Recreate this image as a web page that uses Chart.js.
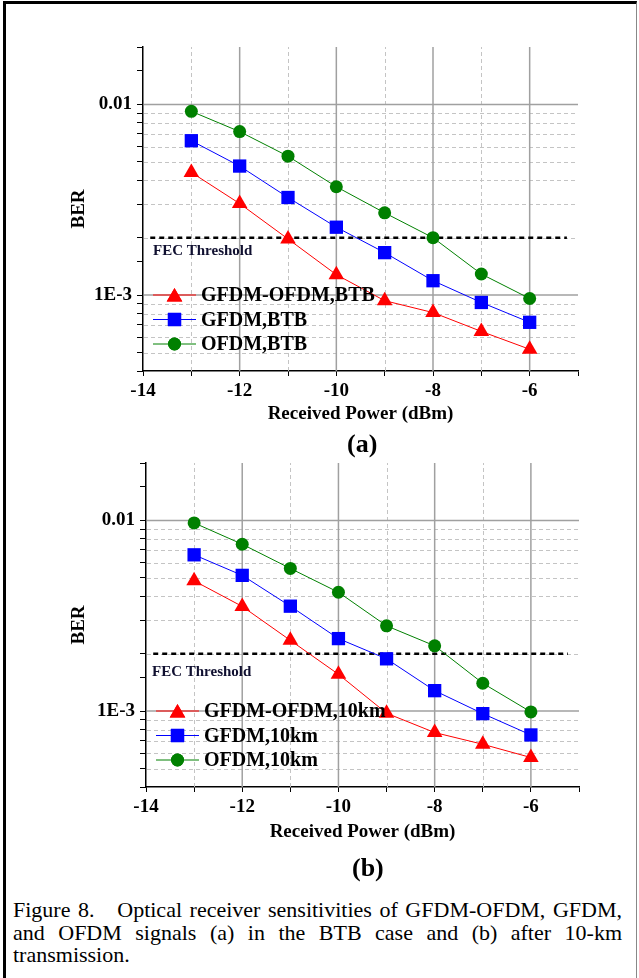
<!DOCTYPE html>
<html>
<head>
<meta charset="utf-8">
<script src="https://cdn.jsdelivr.net/npm/chart.js@4.4.1/dist/chart.umd.min.js"></script>
<style>
html,body{margin:0;padding:0;background:#fff;}
body{width:639px;height:978px;position:relative;overflow:hidden;font-family:"Liberation Serif","Times New Roman",serif;color:#000;}
#frame{position:absolute;left:3px;top:1px;width:630px;height:1000px;border-left:3px solid #000;border-top:3px solid #000;border-right:1px solid #888;}
.wrap{position:absolute;left:0;width:639px;}
#wa{top:0;height:430px;}
#wb{top:440px;height:420px;}
.lab{position:absolute;font-weight:bold;font-size:26px;line-height:26px;}
#cap{position:absolute;left:13px;width:609px;top:899px;font-size:22px;line-height:22.5px;text-align:justify;}
</style>
</head>
<body>
<div id="frame"></div>
<div class="wrap" id="wa"><canvas id="ca"></canvas></div>
<div class="wrap" id="wb"><canvas id="cb"></canvas></div>
<div class="lab" style="left:347px;top:431px;">(a)</div>
<div class="lab" style="left:352px;top:855px;">(b)</div>
<div id="cap">Figure 8.&nbsp;&nbsp; Optical receiver sensitivities of GFDM-OFDM, GFDM, and OFDM signals (a) in the BTB case and (b) after 10-km transmission.</div>
<script>
// ---- data ----
const powers = [-13, -12, -11, -10, -9, -8, -7, -6];
const berGfdmOfdmBtb = [4.4e-3, 3.02e-3, 1.97e-3, 1.28e-3, 0.935e-3, 0.81e-3, 0.645e-3, 0.52e-3];
const berGfdmBtb     = [6.45e-3, 4.75e-3, 3.25e-3, 2.27e-3, 1.67e-3, 1.19e-3, 0.915e-3, 0.72e-3];
const berOfdmBtb     = [9.2e-3, 7.2e-3, 5.35e-3, 3.7e-3, 2.7e-3, 2.0e-3, 1.29e-3, 0.96e-3];
const berGfdmOfdm10  = [4.82e-3, 3.54e-3, 2.35e-3, 1.56e-3, 0.975e-3, 0.772e-3, 0.67e-3, 0.571e-3];
const berGfdm10      = [6.6e-3, 5.15e-3, 3.55e-3, 2.4e-3, 1.88e-3, 1.28e-3, 0.97e-3, 0.75e-3];
const berOfdm10      = [9.7e-3, 7.5e-3, 5.6e-3, 4.2e-3, 2.8e-3, 2.2e-3, 1.4e-3, 0.99e-3];
const fecThreshold = 2e-3;
const fecSpan = [-13.85, -5.23];
const xTickLabels = [-14, -12, -10, -8, -6];
const xMajorGrid = [-12, -10, -8, -6];
const xMinorGrid = [-13, -11, -9, -7];
const yMajorGrid = [1e-3, 1e-2];
const yMinorGrid = [5e-4, 6e-4, 7e-4, 8e-4, 9e-4, 2e-3, 3e-3, 4e-3, 5e-3, 6e-3, 7e-3, 8e-3, 9e-3];
const yTickLabels = [[1e-2, '0.01'], [1e-3, '1E-3']];
const namesA = ['GFDM-OFDM,BTB', 'GFDM,BTB', 'OFDM,BTB'];
const namesB = ['GFDM-OFDM,10km', 'GFDM,10km', 'OFDM,10km'];

const SERIF = "'Liberation Serif','Times New Roman',serif";
const RED = '#ff0000', BLUE = '#0000ff', GREEN = '#008000';

function pts(ys) { return powers.map((x, i) => ({x, y: ys[i]})); }

const gridPlugin = {
  id: 'customGrid',
  beforeDatasetsDraw(chart) {
    const {ctx, chartArea: a, scales: {x, y}} = chart;
    ctx.save();
    ctx.strokeStyle = '#c4c4c4'; ctx.lineWidth = 1; ctx.setLineDash([4, 3]);
    yMinorGrid.forEach(v => { const p = Math.round(y.getPixelForValue(v)) + 0.5;
      ctx.beginPath(); ctx.moveTo(a.left + 1, p); ctx.lineTo(a.right, p); ctx.stroke(); });
    xMinorGrid.forEach(v => { const p = Math.round(x.getPixelForValue(v)) + 0.5;
      ctx.beginPath(); ctx.moveTo(p, a.bottom); ctx.lineTo(p, a.top); ctx.stroke(); });
    ctx.setLineDash([]); ctx.strokeStyle = '#a0a0a0'; ctx.lineWidth = 1.5;
    yMajorGrid.forEach(v => { const p = y.getPixelForValue(v);
      ctx.beginPath(); ctx.moveTo(a.left + 1, p); ctx.lineTo(a.right, p); ctx.stroke(); });
    xMajorGrid.forEach(v => { const p = x.getPixelForValue(v);
      ctx.beginPath(); ctx.moveTo(p, a.bottom); ctx.lineTo(p, a.top); ctx.stroke(); });
    ctx.restore();
  }
};

const legendPlugin = {
  id: 'customLegend',
  afterDatasetsDraw(chart, args, opts) {
    const {ctx} = chart;
    ctx.save();
    const fy = chart.scales.y.getPixelForValue(fecThreshold) + opts.fecDy;
    const fx = chart.scales.x.getPixelForValue(-14) + opts.fecDx;
    ctx.font = "bold 15px " + SERIF; ctx.fillStyle = '#101030';
    ctx.textBaseline = 'middle'; ctx.textAlign = 'left';
    ctx.fillText('FEC Threshold', fx, fy);
    const x0 = chart.scales.x.left + opts.lineStart;
    const x1 = x0 + opts.lineLen;
    chart.data.datasets.slice(0, 3).forEach((ds, i) => {
      const yy = opts.top + i * opts.gap;
      ctx.strokeStyle = ds.borderColor; ctx.lineWidth = 1;
      ctx.beginPath(); ctx.moveTo(x0, yy); ctx.lineTo(x1, yy); ctx.stroke();
      ctx.fillStyle = ds.backgroundColor;
      Chart.helpers.drawPoint(ctx, {pointStyle: ds.pointStyle, radius: ds.pointRadius, borderWidth: 0, rotation: 0},
        (x0 + x1) / 2, ds.pointStyle === 'triangle' ? yy + 2 : yy);
      ctx.fill();
      ctx.font = "bold 20px " + SERIF; ctx.fillStyle = '#000';
      ctx.fillText(opts.names[i], x1 + 5, yy + 1);
    });
    ctx.restore();
  }
};

function makeChart(id, series, names, cfg) {
  const font19 = {family: SERIF, size: 19, weight: 'bold'};
  const ds = (label, data, color, style, r) => ({
    label, data: pts(data), borderColor: color, backgroundColor: color, borderWidth: 1,
    pointStyle: style, pointRadius: r, pointHoverRadius: r, pointBorderWidth: 0, tension: 0
  });
  return new Chart(document.getElementById(id), {
    type: 'line',
    data: {datasets: [
      ds(names[0], series[0], RED, 'triangle', 9),
      ds(names[1], series[1], BLUE, 'rect', 9.4),
      ds(names[2], series[2], GREEN, 'circle', 6.5),
      {label: 'FEC', data: [{x: fecSpan[0], y: fecThreshold}, {x: fecSpan[1], y: fecThreshold}],
       borderColor: '#000', borderWidth: 2.5, borderDash: [5, 4], pointRadius: 0, pointHoverRadius: 0}
    ]},
    options: {
      responsive: true, maintainAspectRatio: false, animation: false,
      layout: {padding: {left: 68, top: cfg.padTop, right: 639 - cfg.right, bottom: 0}},
      plugins: {legend: {display: false}, tooltip: {enabled: false},
        customLegend: {names, top: cfg.legTop, gap: cfg.legGap, lineStart: cfg.lineStart, lineLen: 43,
          fecDx: cfg.fecDx, fecDy: cfg.fecDy}},
      scales: {
        x: {type: 'linear', min: -14, max: -5,
          ticks: {stepSize: 1, autoSkip: false, maxRotation: 0, padding: 4, color: '#000', font: font19,
            callback: v => xTickLabels.includes(v) ? String(v) : ''},
          grid: {display: true, drawOnChartArea: false, drawTicks: true, tickLength: 5, tickColor: '#000', tickWidth: 1},
          border: {display: true, color: '#000', width: 1.5},
          title: {display: true, text: 'Received Power (dBm)', color: '#000', font: font19, padding: {top: 0, bottom: cfg.xTitlePad}},
          afterFit: s => { s.height = cfg.xAxisH; }
        },
        y: {type: 'logarithmic', min: 4e-4, max: 2e-2,
          ticks: {autoSkip: false, padding: 5, color: '#000', font: font19,
            callback: v => { for (const [t, s] of yTickLabels) if (Math.abs(Math.log10(v) - Math.log10(t)) < 1e-6) return s; return ''; }},
          grid: {display: true, drawOnChartArea: false, drawTicks: true, tickLength: 6, tickColor: '#000', tickWidth: 1},
          border: {display: true, color: '#000', width: 1.5},
          title: {display: true, text: 'BER', color: '#000', font: font19, padding: {top: 0, bottom: 0}},
          afterFit: s => { s.width = cfg.left - 68; }
        }
      }
    },
    plugins: [gridPlugin, legendPlugin]
  });
}

makeChart('ca', [berGfdmOfdmBtb, berGfdmBtb, berOfdmBtb], namesA,
  {padTop: 47, right: 578, left: 143, xAxisH: 59, xTitlePad: 5, legTop: 295, legGap: 24.5, lineStart: 10, fecDx: 10, fecDy: 13.5});
makeChart('cb', [berGfdmOfdm10, berGfdm10, berOfdm10], namesB,
  {padTop: 23, right: 579, left: 146, xAxisH: 73, xTitlePad: 17, legTop: 271, legGap: 24.5, lineStart: 10, fecDx: 6, fecDy: 18});
</script>
</body>
</html>
